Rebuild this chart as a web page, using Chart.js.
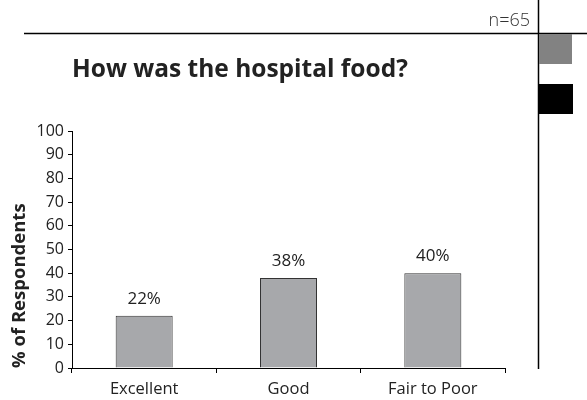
<!DOCTYPE html>
<html>
<head>
<meta charset="utf-8">
<style>
  html, body { margin: 0; padding: 0; background: #fff; }
  #wrap { position: relative; width: 587px; height: 400px; }
  canvas { position: absolute; left: 0; top: 0; }
</style>
<script src="https://cdn.jsdelivr.net/npm/chart.js@4/dist/chart.umd.min.js"></script>
</head>
<body>
<div id="wrap"><canvas id="c" width="587" height="400"></canvas></div>
<script>
const categories = ['Excellent', 'Good', 'Fair to Poor'];
const percents = [22, 38, 40];
const yTicks = [0, 10, 20, 30, 40, 50, 60, 70, 80, 90, 100];
const chartTitle = 'How was the hospital food?';
const sampleNote = 'n=65';
const axisTitle = '% of Respondents';

const FONT = "'Open Sans', 'Noto Sans', sans-serif";
const INK = '#222';

// Page furniture: rule lines, side markers, title, sample size
const framePlugin = {
  id: 'frame',
  beforeDraw(chart) {
    const ctx = chart.ctx;
    ctx.save();
    ctx.fillStyle = '#fff';
    ctx.fillRect(0, 0, chart.width, chart.height);
    ctx.strokeStyle = '#000';
    ctx.lineWidth = 1.5;
    ctx.beginPath();
    ctx.moveTo(24, 33.5); ctx.lineTo(587, 33.5);
    ctx.moveTo(538.5, 0); ctx.lineTo(538.5, 369);
    ctx.stroke();
    ctx.fillStyle = '#828282';
    ctx.fillRect(539, 34, 33, 30);
    ctx.fillStyle = '#000';
    ctx.fillRect(539, 84, 34, 30);
    ctx.fillStyle = '#333';
    ctx.font = "300 18px " + FONT;
    ctx.textAlign = 'right';
    ctx.textBaseline = 'middle';
    ctx.fillText(sampleNote, 530, 21);
    ctx.fillStyle = INK;
    ctx.font = "bold 24.5px " + FONT;
    ctx.textAlign = 'left';
    ctx.fillText(chartTitle, 72, 70);
    ctx.restore();
  }
};

// Percentage labels above each bar
const valueLabels = {
  id: 'valueLabels',
  afterDatasetsDraw(chart) {
    const ctx = chart.ctx;
    const meta = chart.getDatasetMeta(0);
    ctx.save();
    ctx.fillStyle = INK;
    ctx.font = "17px " + FONT;
    ctx.textAlign = 'center';
    ctx.textBaseline = 'middle';
    meta.data.forEach((bar, i) => {
      ctx.fillText(percents[i] + '%', bar.x, bar.y - 17);
    });
    ctx.restore();
  }
};

new Chart(document.getElementById('c'), {
  type: 'bar',
  data: {
    labels: categories,
    datasets: [{
      data: percents,
      backgroundColor: '#a7a8ab',
      borderColor: '#333',
      borderWidth: 1,
      categoryPercentage: 1,
      barPercentage: 0.395
    }]
  },
  options: {
    responsive: false,
    animation: false,
    events: [],
    layout: { padding: { top: 131, right: 82, bottom: 0, left: 0 } },
    plugins: { legend: { display: false }, tooltip: { enabled: false } },
    scales: {
      x: {
        afterFit(s) { s.height = 32; },
        grid: { offset: true, drawOnChartArea: false, tickLength: 5, color: '#000', lineWidth: 1 },
        border: { display: true, color: '#000', width: 1 },
        ticks: { color: INK, font: { family: FONT, size: 16.5 }, padding: 6 }
      },
      y: {
        min: 0, max: 100,
        afterFit(s) { s.width = 72; },
        afterBuildTicks(s) { s.ticks = yTicks.map(v => ({ value: v })); },
        grid: { drawOnChartArea: false, tickLength: 4, color: '#000', lineWidth: 1 },
        border: { display: true, color: '#000', width: 1 },
        ticks: { color: INK, font: { family: FONT, size: 16 }, padding: 4 },
        title: {
          display: true, text: axisTitle, align: 'start', color: INK,
          font: { family: FONT, size: 18.5, weight: 'bold' }, padding: { top: 9, bottom: 0 }
        }
      }
    }
  },
  plugins: [framePlugin, valueLabels]
});
</script>
</body>
</html>
